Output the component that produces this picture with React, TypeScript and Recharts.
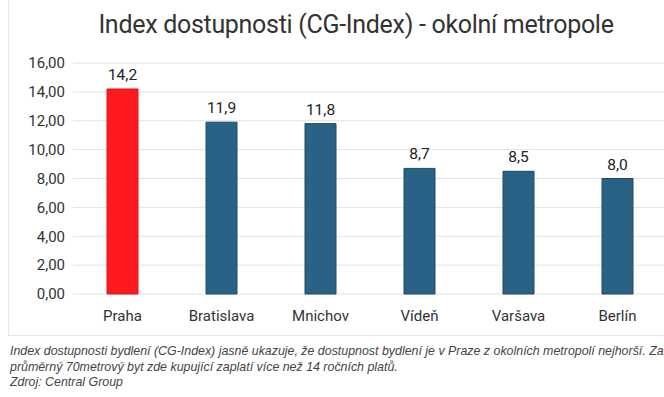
import { BarChart, Bar, XAxis, YAxis, CartesianGrid, Cell, LabelList } from 'recharts'

const CITIES = ['Praha', 'Bratislava', 'Mnichov', 'Vídeň', 'Varšava', 'Berlín']
const CG_INDEX = [14.2, 11.9, 11.8, 8.7, 8.5, 8.0]
const Y_TICKS = [0, 2, 4, 6, 8, 10, 12, 14, 16]

const data = CITIES.map((city, i) => ({ city, value: CG_INDEX[i] }))

const comma = (v: number, d: number) => v.toFixed(d).replace('.', ',')
const FONT = 'Roboto, "Noto Sans", sans-serif'

export default function App() {
  return (
    <div style={{ position: 'absolute', left: 0, top: 0, width: 664, height: 397, overflow: 'hidden', background: '#fff' }}>
      <div style={{
        position: 'absolute', left: 8, top: 0, width: 700, height: 335,
        borderLeft: '1px solid #e6e6e6', borderBottom: '1px solid #e6e6e6',
      }} />
      <div style={{
        position: 'absolute', left: 0, top: 10, width: 712, textAlign: 'center',
        fontFamily: FONT, fontSize: 25, color: '#333', letterSpacing: -0.3,
      }}>
        Index dostupnosti (CG-Index) - okolní metropole
      </div>
      <div style={{ position: 'absolute', left: 0, top: 0 }}>
        <BarChart width={700} height={340} data={data} margin={{ top: 63, right: 33, bottom: 16, left: 0 }}>
          <CartesianGrid vertical={false} stroke="#e3e3e3" />
          <XAxis dataKey="city" axisLine={false} tickLine={false} height={30}
            tick={{ fontSize: 15, fill: '#333', fontFamily: FONT }} tickMargin={10} />
          <YAxis domain={[0, 16]} ticks={Y_TICKS} axisLine={false} tickLine={false} width={73}
            tickFormatter={(v: number) => comma(v, 2)}
            tick={{ fontSize: 15, fill: '#333', fontFamily: FONT }} />
          <Bar dataKey="value" barSize={31} isAnimationActive={false}>
            {data.map((_, i) => (
              <Cell key={i} fill={i === 0 ? '#ff1a1f' : '#2a6286'} stroke={i === 0 ? '#d8141a' : '#1e4a66'} />
            ))}
            <LabelList dataKey="value" position="top" offset={9}
              formatter={(v: number) => comma(v, 1)}
              style={{ fontSize: 15.5, fill: '#222', fontFamily: FONT }} />
          </Bar>
        </BarChart>
      </div>
      <div style={{
        position: 'absolute', left: 10, top: 344, width: 660,
        fontFamily: '"Liberation Sans", Arial, sans-serif', fontStyle: 'italic',
        fontSize: 12.4, lineHeight: '15.7px', color: '#444',
      }}>
        Index dostupnosti bydlení (CG-Index) jasně ukazuje, že dostupnost bydlení je v Praze z okolních metropolí nejhorší. Za<br />
        průměrný 70metrový byt zde kupující zaplatí více než 14 ročních platů.<br />
        Zdroj: Central Group
      </div>
    </div>
  )
}
